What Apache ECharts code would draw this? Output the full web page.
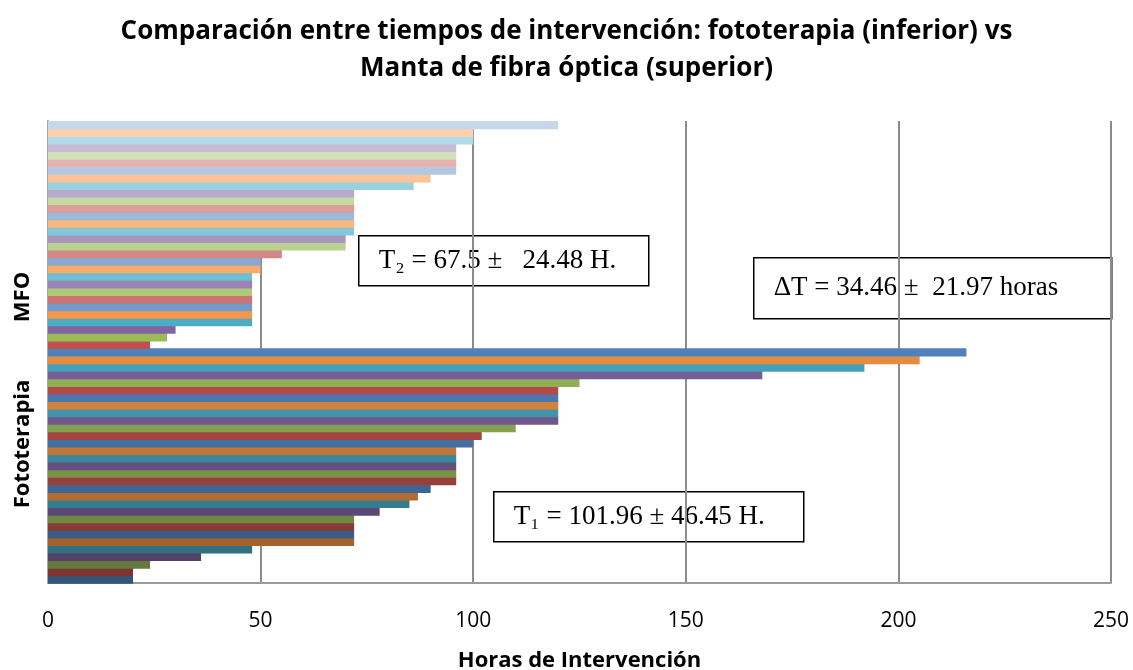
<!DOCTYPE html>
<html>
<head>
<meta charset="utf-8">
<script src="https://cdn.jsdelivr.net/npm/echarts@6/dist/echarts.min.js"></script>
<style>
  html, body { margin: 0; padding: 0; background: #ffffff; }
  #chart { width: 1133px; height: 670px; }
</style>
</head>
<body>
<div id="chart"></div>
<script>
// Hours of intervention per patient, listed from the bottom bar upwards
const groupNames = ['Fototerapia', 'MFO'];
const fototerapiaHoras = [20, 20, 24, 36, 48, 72, 72, 72, 72, 78, 85, 87, 90, 96, 96, 96, 96, 96,
                          100, 102, 110, 120, 120, 120, 120, 120, 125, 168, 192, 205, 216];
const mfoHoras = [24, 28, 30, 48, 48, 48, 48, 48, 48, 48, 50, 50, 55, 70, 70, 72, 72, 72, 72, 72, 72,
                  86, 90, 96, 96, 96, 96, 100, 100, 120];
const xTicks = [0, 50, 100, 150, 200, 250];

const titleText = 'Comparación entre tiempos de intervención: fototerapia (inferior) vs\nManta de fibra óptica (superior)';
const xAxisTitle = 'Horas de Intervención';
const notes = {
  t2: 'T\u2082 = 67.5 \u00b1   24.48 H.',
  dt: '\u0394T = 34.46 \u00b1  21.97 horas',
  t1: 'T\u2081 = 101.96 \u00b1 46.45 H.'
};

// Office-style palette, varied by point: darker shades first, then base, then tints
const basePalette = ['#4F81BD', '#C0504D', '#9BBB59', '#8064A2', '#4BACC6', '#F79646'];
function hexToRgb(h) {
  return [parseInt(h.slice(1, 3), 16), parseInt(h.slice(3, 5), 16), parseInt(h.slice(5, 7), 16)];
}
function pointColor(i) {
  const rgb = hexToRgb(basePalette[i % 6]);
  const k = Math.floor(i / 6);
  let out;
  if (k < 5) {
    const f = 0.65 + 0.07 * k;
    out = rgb.map(c => Math.round(c * f));
  } else if (k === 5) {
    out = rgb;
  } else {
    const t = 0.2 + 0.12 * (k - 6);
    out = rgb.map(c => Math.round(c + (255 - c) * t));
  }
  return 'rgb(' + out.join(',') + ')';
}

const values = fototerapiaHoras.concat(mfoHoras);
const categories = fototerapiaHoras.map((_, i) => groupNames[0] + ' ' + (i + 1))
  .concat(mfoHoras.map((_, i) => groupNames[1] + ' ' + (i + 1)));
const barData = values.map((v, i) => [v, i]);

// Touching horizontal bars: each rect fills its whole category band and reaches
// a hair into the band below, so the one drawn next leaves no antialiasing seam.
function renderBar(params, api) {
  const v = api.value(0);
  const cat = api.value(1);
  const start = api.coord([0, cat]);
  const end = api.coord([v, cat]);
  const band = api.size([0, 1])[1];
  return {
    type: 'rect',
    shape: { x: start[0], y: start[1] - band / 2, width: end[0] - start[0], height: band + 0.8 },
    style: { fill: pointColor(params.dataIndex) }
  };
}

const chart = echarts.init(document.getElementById('chart'), null, { renderer: 'canvas' });

function noteBox(x, y, w, h, text) {
  return {
    type: 'group',
    left: x, top: y,
    children: [
      { type: 'rect', shape: { x: 0, y: 0, width: w, height: h },
        style: { fill: '#ffffff', stroke: '#000000', lineWidth: 1.5 } },
      { type: 'text', x: 20, y: h / 2,
        style: { text: text, fill: '#000000', font: '27px "Liberation Serif", "Times New Roman", serif',
                 align: 'left', verticalAlign: 'middle' } }
    ]
  };
}

chart.setOption({
  animation: false,
  backgroundColor: '#ffffff',
  title: {
    text: titleText,
    left: 'center',
    top: 8,
    textStyle: { fontFamily: '"Open Sans", sans-serif', fontWeight: 'bold', fontSize: 26,
                 color: '#000000', lineHeight: 37 }
  },
  grid: { left: 48, right: 22, top: 121, bottom: 87, containLabel: false, outerBoundsMode: 'none' },
  xAxis: {
    type: 'value',
    min: xTicks[0],
    max: xTicks[xTicks.length - 1],
    interval: xTicks[1] - xTicks[0],
    name: xAxisTitle,
    nameLocation: 'middle',
    nameGap: 67,
    nameTextStyle: { fontFamily: '"Open Sans", sans-serif', fontWeight: 'bold', fontSize: 22, color: '#000000' },
    axisLine: { show: true, lineStyle: { color: '#9a9a9a', width: 2 } },
    axisTick: { show: false },
    axisLabel: { margin: 28, fontFamily: '"Open Sans", sans-serif', fontSize: 21, color: '#000000' },
    splitLine: { show: true, lineStyle: { color: '#8c8c8c', width: 2 } }
  },
  yAxis: {
    type: 'category',
    data: categories,
    axisLine: { show: true, lineStyle: { color: '#a6a6a6', width: 2 } },
    axisTick: { show: false },
    axisLabel: { show: false },
    splitLine: { show: false }
  },
  series: [{
    type: 'custom',
    renderItem: renderBar,
    data: barData,
    encode: { x: 0, y: 1 },
    z: 3
  }],
  graphic: [
    { type: 'text', x: 23, y: 297, rotation: Math.PI / 2,
      style: { text: groupNames[1], font: 'bold 22px "Open Sans", sans-serif', fill: '#000000',
               align: 'center', verticalAlign: 'middle' } },
    { type: 'text', x: 23, y: 444, rotation: Math.PI / 2,
      style: { text: groupNames[0], font: 'bold 22px "Open Sans", sans-serif', fill: '#000000',
               align: 'center', verticalAlign: 'middle' } },
    noteBox(358, 235, 290, 50, notes.t2),
    noteBox(753, 257, 358, 61, notes.dt),
    noteBox(493, 491, 310, 50, notes.t1)
  ]
});
</script>
</body>
</html>
